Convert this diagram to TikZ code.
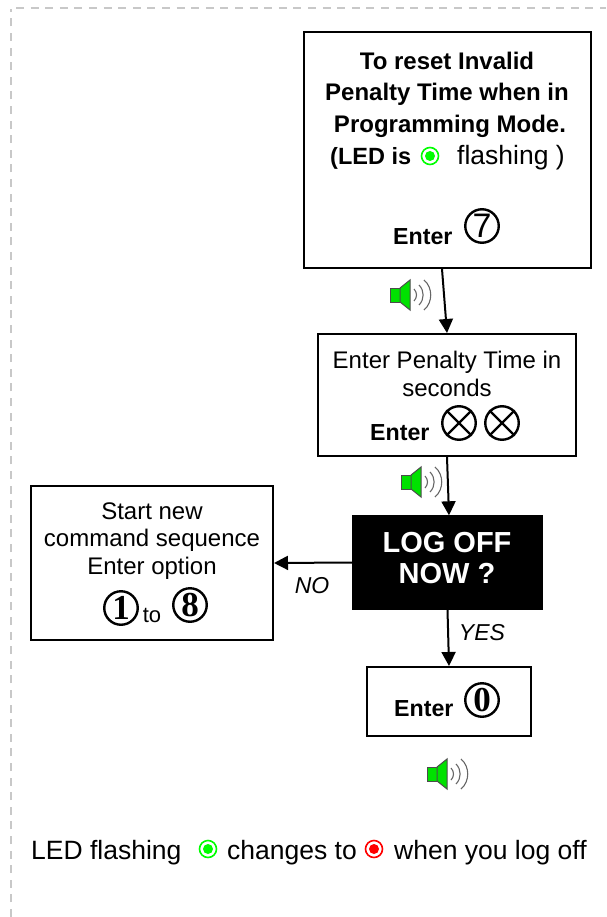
\documentclass[tikz,border=0pt]{standalone}
\usepackage{fontspec}
\setmainfont{Liberation Sans}
\newfontfamily\keyserif{Liberation Serif}
\usetikzlibrary{arrows.meta}
\definecolor{ledgreen}{RGB}{0,255,0}
\definecolor{spkgreen}{RGB}{0,225,0}
\definecolor{framegray}{RGB}{200,200,200}
\newcommand{\txt}[1]{\fontsize{#1}{#1}\selectfont}
\tikzset{
  x=1pt,y=-1pt,
  box/.style={draw=black,line width=2pt,fill=white,minimum width=0pt,inner sep=0pt},
  flow/.style={draw=black,line width=2pt,-{Triangle[length=14pt,width=14pt]}},
  lbl/.style={inner sep=0pt,anchor=base,align=center,text=black,font=\txt{24}},
  boldlbl/.style={lbl,font=\txt{24}\bfseries},
  enterlbl/.style={inner sep=0pt,anchor=base west,font=\txt{23.2}\bfseries},
  leglbl/.style={inner sep=0pt,anchor=base west,font=\txt{26.5}},
  key/.style={circle,draw=black,line width=2.4pt,minimum size=33.5pt,inner sep=0pt},
  keyglyph/.style={inner sep=0pt,font=\txt{34}},
  serifkey/.style={inner sep=0pt,font=\txt{35}\keyserif\bfseries},
  italbl/.style={inner sep=0pt,font=\txt{23}\itshape},
  led/.pic={
    \draw[draw=#1,line width=1.6pt,fill=white] (0,0) circle (8.5pt);
    \fill[#1] (0,0) circle (5pt);
  },
  speaker/.pic={
    \draw[fill=spkgreen,draw=black!70,line width=1pt] (-13,-7) rectangle (-3,7);
    \draw[fill=spkgreen,draw=black!70,line width=1pt] (-3,-7) -- (7,-15) -- (7,15) -- (-3,7) -- cycle;
    \draw[black!60,line width=1.1pt] (11,-6) to[bend left=45] (11,6);
    \draw[black!60,line width=1.1pt] (16,-10) to[bend left=45] (16,10);
    \draw[black!60,line width=1.1pt] (21,-15) to[bend left=50] (21,15);
  }
}
\begin{document}
\begin{tikzpicture}
\useasboundingbox (0,0) rectangle (606,917);
% frame
\draw[framegray,line width=1.5pt,dash pattern=on 8pt off 6.6pt] (11,917) -- (11,9);
\draw[framegray,line width=1.5pt,dash pattern=on 8pt off 6.6pt] (16,8) -- (606,8);

% boxes
\node[box,minimum width=287pt,minimum height=236pt] (resetbox) at (447,150) {};
\node[box,minimum width=258pt,minimum height=122pt] (timebox) at (447,395) {};
\node[box,minimum width=242pt,minimum height=154pt] (startbox) at (152,563) {};
\node[draw=black,fill=black,minimum width=190pt,minimum height=94pt,inner sep=0pt] (logoff) at (447.5,562.5) {};
\node[box,minimum width=164pt,minimum height=69pt] (zerobox) at (449,701.5) {};

% connectors
\draw[flow] ([xshift=-5pt]resetbox.south) -- (timebox.north);
\draw[flow] (timebox.south) -- ([xshift=1.5pt]logoff.north);
\draw[flow] (logoff.west) -- (startbox.east);
\draw[flow] (logoff.south) -- (zerobox.north);

% reset box texts
\node[boldlbl] (t1) at (447,70) {To reset Invalid};
\node[boldlbl] (t2) at (447,101) {Penalty Time when in};
\node[boldlbl] (t3) at (450,133) {Programming Mode.};
\node[enterlbl,font=\txt{23.5}\bfseries] (t4) at (330,165) {(LED is};
\pic at (430,156) {led=ledgreen};
\node[leglbl] (t5) at (457,165) {flashing )};
\node[enterlbl] (t6) at (393,244) {Enter};
\node[key] (k7) at (482,226) {};
\node[keyglyph] (g7) at (482,226) {7};

% time box texts
\node[lbl] (t7) at (447,368) {Enter Penalty Time in};
\node[lbl] (t8) at (447,396) {seconds};
\node[enterlbl] (t9) at (370,440) {Enter};
\node[key] (kx1) at (459,423) {};
\draw[line width=2.4pt] (kx1.45) -- (kx1.225) (kx1.135) -- (kx1.315);
\node[key] (kx2) at (502,423) {};
\draw[line width=2.4pt] (kx2.45) -- (kx2.225) (kx2.135) -- (kx2.315);

% start box texts
\node[lbl] (s1) at (152,519) {Start new};
\node[lbl] (s2) at (152,546) {command sequence};
\node[lbl] (s3) at (152,574) {Enter option};
\node[key] (k1) at (121,608) {};
\node[serifkey] (g1) at (121,608) {1};
\node[inner sep=0pt,font=\txt{22}] (s4) at (152,615) {to};
\node[key] (k8) at (190,605) {};
\node[serifkey] (g8) at (190,605) {8};

% log off
\node[lbl,text=white,font=\txt{29}\bfseries] (l1) at (447,552) {LOG OFF};
\node[lbl,text=white,font=\txt{29}\bfseries] (l2) at (447,583) {NOW ?};

% labels
\node[italbl] (no) at (312,586) {NO};
\node[italbl] (yes) at (482,633) {YES};

% enter 0
\node[enterlbl] (t10) at (394,716) {Enter};
\node[key] (k0) at (482,700) {};
\node[serifkey] (g0) at (482,700) {0};

% speakers
\pic at (403,295) {speaker};
\pic at (414,482) {speaker};
\pic at (440,774) {speaker};

% legend
\node[leglbl] (m1) at (31,859) {LED flashing};
\pic at (208,849) {led=ledgreen};
\node[leglbl] (m2) at (227,859) {changes to};
\pic at (374,849) {led=red};
\node[leglbl] (m3) at (394,859) {when you log off};
\end{tikzpicture}
\end{document}
